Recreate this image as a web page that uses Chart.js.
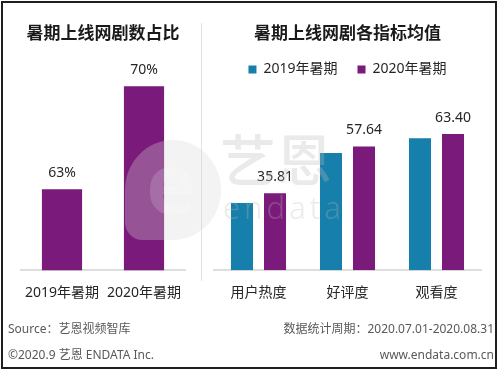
<!DOCTYPE html>
<html><head><meta charset="utf-8">
<script src="https://cdn.jsdelivr.net/npm/chart.js@4.4.1/dist/chart.umd.min.js"></script>
<style>
html,body{margin:0;padding:0;background:#fff;}
#wrap{position:relative;width:500px;height:372px;overflow:hidden;font-family:"Noto Sans","Noto Sans CJK SC",sans-serif;}
#frame{position:absolute;left:1px;top:1px;width:492px;height:364px;border:2px solid #1e1e1e;}
#c1{position:absolute;left:0;top:0;}
#c2{position:absolute;left:200px;top:0;}
#divider{position:absolute;left:201px;top:23px;width:1px;height:258px;background:#e3e3e3;}
.foot{position:absolute;font-size:12px;color:#595959;white-space:nowrap;line-height:14px;}
.wm{position:absolute;pointer-events:none;white-space:nowrap;}
</style></head>
<body><div id="wrap">
<div id="frame"></div>
<div id="divider"></div>
<canvas id="c1" width="200" height="325"></canvas>
<canvas id="c2" width="300" height="325"></canvas>
<div class="wm" style="left:125px;top:140px;width:96px;height:100px;border-radius:50% 50% 50% 18%;background:rgba(215,215,215,0.3);"></div>
<div class="wm" style="left:146px;top:136px;font:bold 84px 'Noto Sans';color:rgba(255,255,255,0.16);line-height:92px;">e</div>
<div class="wm" style="left:220px;top:122px;font:500 56px 'Noto Sans CJK SC';color:rgba(185,185,185,0.3);line-height:70px;">艺恩</div>
<div class="wm" style="left:223px;top:190px;font:300 31px 'Noto Sans';letter-spacing:4px;color:rgba(185,185,185,0.3);line-height:34px;">endata</div>
<div class="foot" style="left:8px;top:322px;">Source：艺恩视频智库</div>
<div class="foot" style="left:8px;top:348px;">©2020.9 艺恩 ENDATA Inc.</div>
<div class="foot" style="right:6px;top:322px;">数据统计周期：2020.07.01-2020.08.31</div>
<div class="foot" style="right:6px;top:348px;">www.endata.com.cn</div>
</div>
<script>
const shareCategories = ['2019年暑期', '2020年暑期'];
const shareValues = [63, 70];
const metricCategories = ['用户热度', '好评度', '观看度'];
const seriesNames = ['2019年暑期', '2020年暑期'];
const metrics2019 = [31.3, 54.6, 61.4];
const metrics2020 = [35.81, 57.64, 63.40];

const BLUE = '#167fab';
const PURPLE = '#7a1a7a';
const TXT = '#262626';
const CJK = "'Noto Sans','Noto Sans CJK SC',sans-serif";

const valueLabels = {
  id: 'valueLabels',
  afterDatasetsDraw(chart) {
    const ctx = chart.ctx;
    ctx.save();
    ctx.font = '14px ' + CJK;
    ctx.fillStyle = TXT;
    ctx.textAlign = 'center';
    ctx.textBaseline = 'middle';
    chart.data.datasets.forEach((ds, di) => {
      if (!ds.labelFmt) return;
      chart.getDatasetMeta(di).data.forEach((bar, i) => {
        ctx.fillText(ds.labelFmt(ds.data[i]), bar.x, bar.y - 16);
      });
    });
    ctx.restore();
  }
};

const xAxis = {
  grid: { display: false, drawTicks: false, tickLength: 0 },
  border: { display: true, color: '#dedede', width: 2 },
  ticks: { color: TXT, font: { size: 14, family: CJK }, padding: 14 }
};

new Chart(document.getElementById('c1'), {
  type: 'bar',
  data: {
    labels: shareCategories,
    datasets: [{
      label: '上线网剧数占比',
      data: shareValues,
      backgroundColor: PURPLE,
      categoryPercentage: 1,
      barPercentage: 0.49,
      labelFmt: v => v + '%'
    }]
  },
  options: {
    responsive: false,
    animation: false,
    layout: { padding: { left: 21, right: 15, top: 0, bottom: 10 } },
    plugins: {
      legend: { display: false },
      tooltip: { enabled: false },
      title: {
        display: true,
        text: '暑期上线网剧数占比',
        color: '#1a1a1a',
        font: { size: 17, weight: 'bold', family: "'Noto Sans CJK SC',sans-serif" },
        padding: { top: 22, bottom: 10 }
      }
    },
    scales: {
      x: xAxis,
      y: { display: false, min: 57.5, max: 72.3 }
    }
  },
  plugins: [valueLabels]
});

new Chart(document.getElementById('c2'), {
  type: 'bar',
  data: {
    labels: metricCategories,
    datasets: [{
      label: seriesNames[0],
      data: metrics2019,
      backgroundColor: BLUE,
      categoryPercentage: 0.742,
      barPercentage: 0.667
    }, {
      label: seriesNames[1],
      data: metrics2020,
      backgroundColor: PURPLE,
      categoryPercentage: 0.742,
      barPercentage: 0.667,
      labelFmt: v => v.toFixed(2)
    }]
  },
  options: {
    responsive: false,
    animation: false,
    layout: { padding: { left: 14, right: 19, top: 0, bottom: 10 } },
    plugins: {
      tooltip: { enabled: false },
      title: {
        display: true,
        text: '暑期上线网剧各指标均值',
        color: '#1a1a1a',
        font: { size: 17, weight: 'bold', family: "'Noto Sans CJK SC',sans-serif" },
        padding: { top: 22, bottom: 0 }
      },
      legend: {
        display: true,
        labels: {
          boxWidth: 8, boxHeight: 8, padding: 20,
          color: TXT,
          font: { size: 14, family: CJK }
        }
      }
    },
    scales: {
      x: xAxis,
      y: { display: false, min: 0, max: 85.6 }
    }
  },
  plugins: [valueLabels]
});
</script>
</body></html>
